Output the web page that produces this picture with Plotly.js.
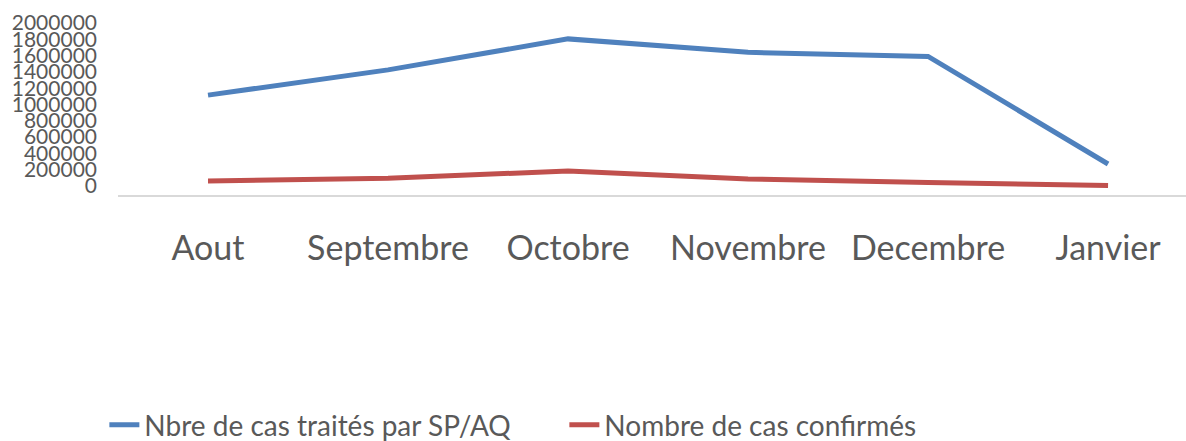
<!DOCTYPE html>
<html>
<head>
<meta charset="utf-8">
<script src="https://cdn.plot.ly/plotly-3.0.1.min.js"></script>
<style>html,body{margin:0;padding:0;background:#fff;}#chart{width:1186px;height:441px;}</style>
</head>
<body>
<div id="chart"></div>
<script>
const months = ["Aout", "Septembre", "Octobre", "Novembre", "Decembre", "Janvier"];
const casTraites = [1115000, 1425000, 1805000, 1640000, 1590000, 270000];
const casConfirmes = [61000, 94000, 184000, 86000, 43000, 5000];
const seriesNames = ["Nbre de cas traités par SP/AQ", "Nombre de cas confirmés"];
const yTicks = [0, 200000, 400000, 600000, 800000, 1000000, 1200000, 1400000, 1600000, 1800000, 2000000];

const font = "Lato, 'Open Sans', sans-serif";
const traces = [
  {x: months, y: casTraites, name: seriesNames[0], type: "scatter", mode: "lines",
   line: {color: "#4F81BD", width: 5}},
  {x: months, y: casConfirmes, name: seriesNames[1], type: "scatter", mode: "lines",
   line: {color: "#C0504D", width: 5}}
];
const layout = {
  width: 1186, height: 441,
  margin: {l: 118, r: 0, t: 23, b: 246, autoexpand: false},
  paper_bgcolor: "#fff", plot_bgcolor: "#fff",
  font: {family: font, color: "#595959"},
  showlegend: true,
  legend: {orientation: "h", xref: "container", yref: "container",
           x: 0.088, xanchor: "left", y: 0.036, yanchor: "middle",
           font: {size: 28, color: "#595959", family: font}, entrywidth: 415},
  xaxis: {type: "category", range: [-0.5, 5.433], showgrid: false, zeroline: false,
          automargin: false,
          showline: true, linecolor: "#D9D9D9", linewidth: 2, ticks: "",
          tickfont: {size: 34, color: "#595959", family: font}, ticklabelstandoff: 22},
  yaxis: {range: [-110600, 2000000], tickvals: yTicks, ticktext: yTicks.map(String),
          automargin: false,
          showgrid: false, zeroline: false, showline: false, ticks: "",
          tickfont: {size: 21, color: "#595959", family: font}, ticklabelstandoff: 20}
};
Plotly.newPlot("chart", traces, layout, {displayModeBar: false, staticPlot: true});
</script>
</body>
</html>
